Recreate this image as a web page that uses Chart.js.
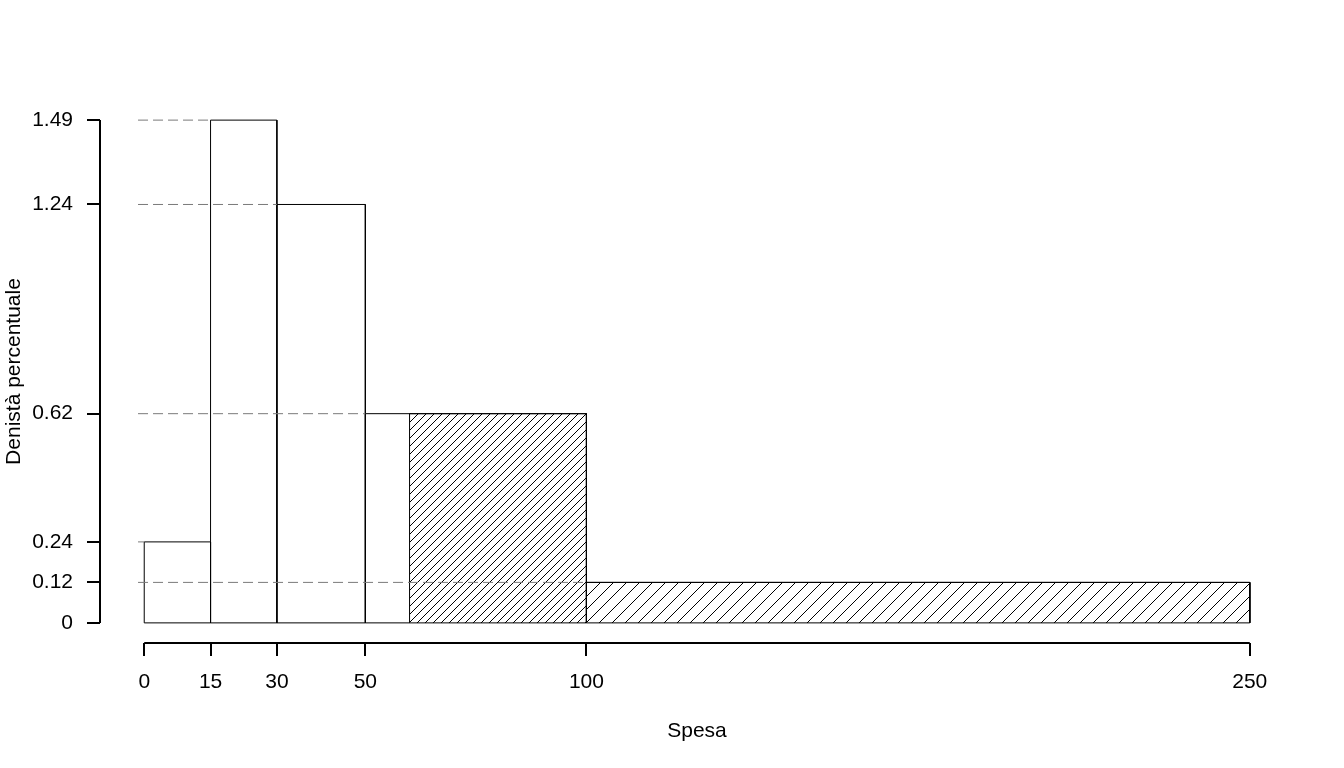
<!DOCTYPE html>
<html>
<head>
<meta charset="utf-8">
<script src="https://cdn.jsdelivr.net/npm/chart.js@4.4.1/dist/chart.umd.min.js"></script>
<style>
  html, body { margin: 0; padding: 0; background: #fff; }
  #wrap { width: 1344px; height: 768px; position: relative; }
</style>
</head>
<body>
<div id="wrap"><canvas id="hist"></canvas></div>
<script>
// histogram data
const breaks = [0, 15, 30, 50, 100, 250];
const density = [0.24, 1.49, 1.24, 0.62, 0.12];
const xTicks = [0, 15, 30, 50, 100, 250];
const yTicks = [0, 0.12, 0.24, 0.62, 1.24, 1.49];
const shadeFrom = 60;
const guideStart = -1.4;

// hatch spacing (px) for the shaded bins, by bin index
const hatchGap = { 3: 8, 4: 13 };

const FONT = { family: "'Liberation Sans', Arial, sans-serif", size: 21 };

const makeHatch = (gap) => {
  const c = document.createElement('canvas');
  c.width = gap;
  c.height = gap;
  const g = c.getContext('2d');
  g.strokeStyle = '#000';
  g.lineWidth = 1;
  g.beginPath();
  g.moveTo(0, gap); g.lineTo(gap, 0);
  g.moveTo(-1, 1); g.lineTo(1, -1);
  g.moveTo(gap - 1, gap + 1); g.lineTo(gap + 1, gap - 1);
  g.stroke();
  return g.createPattern(c, 'repeat');
};

const datasets = [];

// dashed guides from the axis to each bar
density.forEach((d, i) => {
  datasets.push({
    data: [{ x: guideStart, y: d }, { x: breaks[i], y: d }],
    borderColor: '#7a7a7a',
    borderWidth: 1,
    borderDash: [10, 5],
    pointRadius: 0,
    fill: false,
    order: 0,
  });
});

// bar outlines
density.forEach((d, i) => {
  const a = breaks[i], b = breaks[i + 1];
  datasets.push({
    data: [{ x: a, y: 0 }, { x: a, y: d }, { x: b, y: d }, { x: b, y: 0 }, { x: a, y: 0 }],
    borderColor: '#000',
    borderWidth: 1,
    pointRadius: 0,
    fill: false,
    order: 1,
  });
});

// shaded part (spesa > 60)
density.forEach((d, i) => {
  const a = breaks[i], b = breaks[i + 1];
  if (b <= shadeFrom) return;
  const from = Math.max(a, shadeFrom);
  datasets.push({
    data: [{ x: from, y: 0 }, { x: from, y: d }, { x: b, y: d }, { x: b, y: 0 }],
    borderColor: '#000',
    borderWidth: 1,
    backgroundColor: makeHatch(hatchGap[i] || 8),
    pointRadius: 0,
    fill: 'origin',
    order: 2,
  });
});

const axisLines = {
  id: 'axisLines',
  afterDraw(chart) {
    const { ctx, chartArea, scales: { x, y } } = chart;
    ctx.save();
    ctx.strokeStyle = '#000';
    ctx.lineWidth = 2;
    ctx.beginPath();
    ctx.moveTo(x.getPixelForValue(xTicks[0]), chartArea.bottom);
    ctx.lineTo(x.getPixelForValue(xTicks[xTicks.length - 1]), chartArea.bottom);
    ctx.moveTo(chartArea.left, y.getPixelForValue(yTicks[0]));
    ctx.lineTo(chartArea.left, y.getPixelForValue(yTicks[yTicks.length - 1]));
    ctx.stroke();
    ctx.restore();
  }
};

const xPad = (breaks[breaks.length - 1] - breaks[0]) * 0.04;
const yTop = Math.max(...density);
const yPad = yTop * 0.04;

new Chart(document.getElementById('hist'), {
  type: 'scatter',
  data: { datasets },
  options: {
    responsive: true,
    maintainAspectRatio: false,
    animation: false,
    showLine: true,
    layout: { padding: { left: 0, top: 100, right: 50, bottom: 0 } },
    plugins: { legend: { display: false }, tooltip: { enabled: false } },
    elements: { line: { tension: 0 } },
    scales: {
      x: {
        type: 'linear',
        position: 'bottom',
        min: breaks[0] - xPad,
        max: breaks[breaks.length - 1] + xPad,
        afterBuildTicks: (s) => { s.ticks = xTicks.map(v => ({ value: v })); },
        afterFit: (s) => { s.height = 125; },
        ticks: {
          autoSkip: false,
          maxRotation: 0,
          color: '#000',
          font: FONT,
          padding: 14,
          callback: (v) => String(v),
        },
        grid: { drawOnChartArea: false, drawTicks: true, tickLength: 13, color: '#000', lineWidth: 2 },
        border: { display: false },
        title: { display: true, text: 'Spesa', color: '#000', font: FONT, padding: { top: 0, bottom: 24 } },
      },
      y: {
        type: 'linear',
        min: -yPad,
        max: yTop + yPad,
        afterBuildTicks: (s) => { s.ticks = yTicks.map(v => ({ value: v })); },
        afterFit: (s) => { s.width = 100; },
        ticks: {
          autoSkip: false,
          color: '#000',
          font: FONT,
          padding: 14,
          callback: (v) => String(v),
        },
        grid: { drawOnChartArea: false, drawTicks: true, tickLength: 13, color: '#000', lineWidth: 2 },
        border: { display: false },
        title: { display: true, text: 'Denistà percentuale', color: '#000', font: FONT, padding: { top: 2, bottom: 0 } },
      },
    },
  },
  plugins: [axisLines],
});
</script>
</body>
</html>
